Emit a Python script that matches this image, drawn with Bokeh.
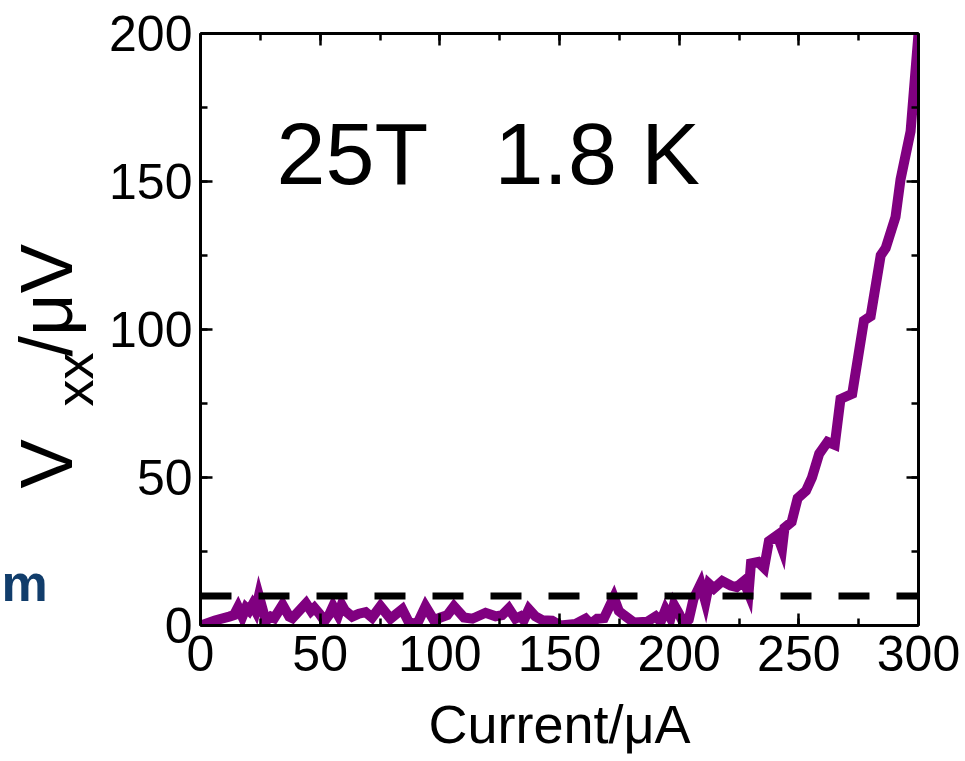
import math
from bokeh.plotting import figure
from bokeh.layouts import row
from bokeh.models import LinearAxis, Label, Range1d, SingleIntervalTicker
from bokeh.embed import file_html
from bokeh.resources import INLINE

# ---- data ----
current_uA = [0, 6, 12, 14, 15.7, 17.5, 19, 20.3, 21.7, 23, 24.4, 27.3, 29.4, 30.8, 34.3, 37.1, 38.4,
              44.1, 46.2, 47.6, 49.7, 51.8, 54, 55.4, 57.5, 59, 60.4, 63.4, 66.2, 69, 71.7, 75.2, 79.4,
              84.3, 87.1, 90.5, 94, 97.5, 100.3, 103.1, 105.9, 110.1, 113.6, 119.1, 123.3, 126, 128.8,
              131.6, 133.7, 135.1, 137.2, 139.9, 142.8, 146.9, 150.4, 152.5, 156.7, 160.9, 163, 165.8,
              168.6, 172.7, 174.8, 176.9, 181.1, 186.7, 190.2, 192.3, 194.3, 196.4, 197.8, 199.9,
              202, 204, 206, 209, 211, 212.5, 214.5, 218, 221.5, 224, 227, 229, 230, 233, 235.5,
              237.5, 241, 243, 244, 247, 249.5, 253, 255.5, 258.5, 262, 265, 267.4, 272.3, 277.2,
              280, 284.2, 286.3, 290.4, 292.5, 296.7, 300]
vxx_uV = [0, 1.7, 3, 3.5, 6.2, 3, 6, 5, 7, 5, 10, 1.5, 3, 2.5, 7, 3, 2.5,
          7.5, 4.9, 6, 4, 1.5, 4, 6.5, 3.5, 7, 5, 3, 4, 4.5, 2.7, 6.5, 2.3,
          5.5, 1, 0.5, 6.5, 1.8, 2.7, 3.5, 6.5, 2.7, 2.3, 4.3, 3.1, 3.5, 5.8,
          2.3, 3.1, 1.8, 5.5, 3.1, 1.8, 1.6, 0, 0.2, 0.5, 2.3, 0.5, 2.3,
          2.5, 9.5, 4.9, 3.5, 1, 1.3, 3.1, 1.3, 5.4, 2.5, 7, 4,
          0.5, 2, 9, 14, 8, 14, 12.5, 15, 13.5, 13, 15, 11, 21, 21.5, 19.5,
          28.5, 30.5, 26, 33, 35, 43, 45.5, 50, 58, 62, 61, 76.5, 78.3, 103,
          104.5, 125, 127.5, 138, 150.7, 167, 200]

threshold_x = [0, 300]
threshold_y = [10, 10]

x_axis_title = "Current/\u03bcA"
y_title_main = "V"
y_title_sub = "xx"
y_title_unit = "/\u03bcV"
annotation_field = "25T"
annotation_temp = "1.8 K"
side_fragment = "m"

FONT = "Liberation Sans"
W, H = 965, 761
LEFT_W = 105           # side strip that carries the rotated y title
FRAME_TOP, FRAME_BOTTOM = 33, 625
FRAME_LEFT, FRAME_RIGHT = 200, 918

# ---- main plot ----
p = figure(width=W - LEFT_W, height=H, output_backend="svg", toolbar_location=None,
           x_range=Range1d(0, 300), y_range=Range1d(0, 200),
           min_border_left=FRAME_LEFT - LEFT_W, min_border_right=W - FRAME_RIGHT,
           min_border_top=FRAME_TOP, min_border_bottom=H - FRAME_BOTTOM,
           background_fill_color="white", border_fill_color="white")
p.outline_line_color = None
p.grid.visible = False

def style_axis(ax, show_labels=True):
    ax.axis_line_width = 3
    ax.axis_line_color = "black"
    ax.major_tick_in = 12
    ax.major_tick_out = 0
    ax.minor_tick_in = 7
    ax.minor_tick_out = 0
    ax.major_tick_line_width = 2.5
    ax.minor_tick_line_width = 2.5
    ax.major_tick_line_color = "black"
    ax.minor_tick_line_color = "black"
    ax.major_label_text_font = FONT
    if show_labels:
        ax.major_label_text_font_size = "50px"
        ax.major_label_text_color = "black"
    else:
        ax.major_label_text_font_size = "1px"
        ax.major_label_text_color = None
        ax.major_label_standoff = 0

p.xaxis.ticker = SingleIntervalTicker(interval=50, num_minor_ticks=2)
p.yaxis.ticker = SingleIntervalTicker(interval=50, num_minor_ticks=2)
style_axis(p.xaxis[0])
style_axis(p.yaxis[0])
p.xaxis.major_label_standoff = 10
p.yaxis.major_label_standoff = 8
p.xaxis.axis_label = x_axis_title
p.xaxis.axis_label_text_font = FONT
p.xaxis.axis_label_text_font_size = "54px"
p.xaxis.axis_label_text_font_style = "normal"
p.xaxis.axis_label_text_color = "black"
p.xaxis.axis_label_standoff = 20

top = LinearAxis(ticker=SingleIntervalTicker(interval=50, num_minor_ticks=2))
right = LinearAxis(ticker=SingleIntervalTicker(interval=50, num_minor_ticks=2))
style_axis(top, False)
style_axis(right, False)
p.add_layout(top, "above")
p.add_layout(right, "right")

p.line(current_uA, vxx_uV, line_color="#800080", line_width=10, line_join="miter")
p.line(threshold_x, threshold_y, line_color="black", line_width=7, line_dash="31 27")

def px_to_x(px):
    return (px - FRAME_LEFT) * 300 / (FRAME_RIGHT - FRAME_LEFT)

def py_to_y(py):
    return (FRAME_BOTTOM - py) * 200 / (FRAME_BOTTOM - FRAME_TOP)

# "middle" puts the anchor at the middle of the capitals
p.add_layout(Label(x=px_to_x(276), y=py_to_y(153), text=annotation_field,
                   text_font=FONT, text_font_size="88px", text_color="black",
                   text_align="left", text_baseline="middle"))
p.add_layout(Label(x=px_to_x(494), y=py_to_y(153), text=annotation_temp,
                   text_font=FONT, text_font_size="88px", text_color="black",
                   text_align="left", text_baseline="middle"))

# ---- side strip: its frame is aligned with the main frame vertically ----
s = figure(width=LEFT_W, height=H, output_backend="svg", toolbar_location=None,
           x_range=Range1d(0, LEFT_W), y_range=Range1d(0, FRAME_BOTTOM - FRAME_TOP),
           x_axis_type=None, y_axis_type=None, min_border=0,
           background_fill_color="white", border_fill_color="white")
s.outline_line_color = None
s.grid.visible = False

def sy(py):
    return FRAME_BOTTOM - py

s.add_layout(Label(x=46, y=sy(488), text=y_title_main, angle=math.pi / 2,
                   text_font=FONT, text_font_size="74px", text_color="black",
                   text_align="left", text_baseline="middle"))
s.add_layout(Label(x=73, y=sy(406), text=y_title_sub, angle=math.pi / 2,
                   text_font=FONT, text_font_size="54px", text_color="black",
                   text_align="left", text_baseline="middle"))
s.add_layout(Label(x=46, y=sy(356), text=y_title_unit, angle=math.pi / 2,
                   text_font=FONT, text_font_size="74px", text_color="black",
                   text_align="left", text_baseline="middle"))
s.add_layout(Label(x=1, y=sy(582), text=side_fragment,
                   text_font=FONT, text_font_size="52px", text_font_style="bold",
                   text_color="#113d6b", text_align="left", text_baseline="middle"))

layout = row(s, p, spacing=0)
open("out.html", "w").write(file_html(layout, INLINE))
